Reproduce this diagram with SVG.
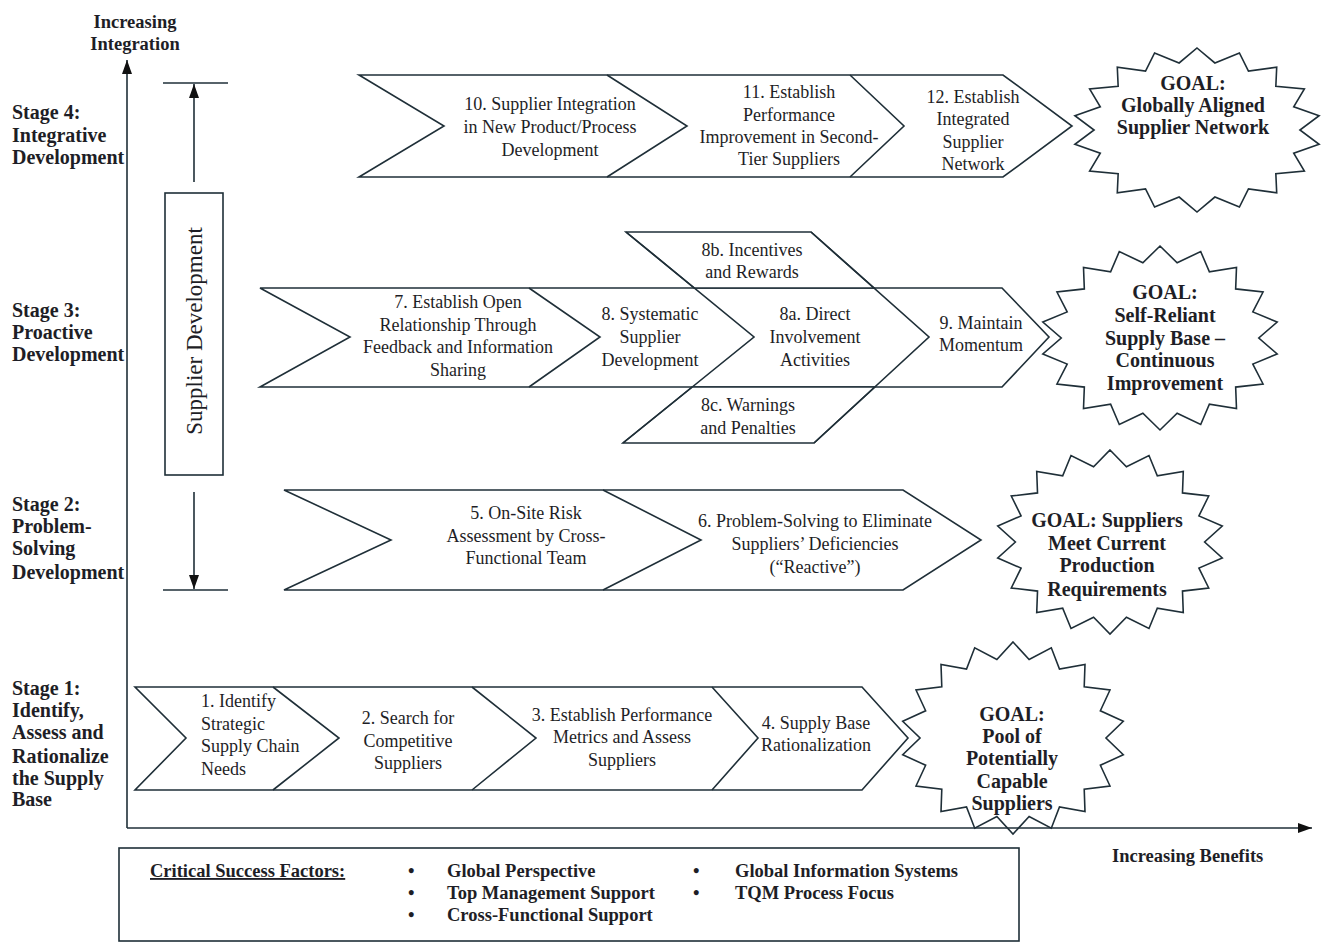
<svg xmlns="http://www.w3.org/2000/svg" xmlns:xlink="http://www.w3.org/1999/xlink" width="1323" height="944" viewBox="0 0 1323 944">
<style>
.ln{fill:none;stroke:#1f2f38;stroke-width:1.6}
.sh{fill:#fff;stroke:#1f2f38;stroke-width:1.6}
.t{font-family:"Liberation Serif","Times New Roman",serif;font-size:18px;fill:#1e1e26;text-anchor:middle}
.tl{font-family:"Liberation Serif","Times New Roman",serif;font-size:18px;fill:#1e1e26}
.b{font-family:"Liberation Serif","Times New Roman",serif;font-size:18.5px;font-weight:bold;fill:#1e1e26}
.s{font-family:"Liberation Serif","Times New Roman",serif;font-size:20px;font-weight:bold;fill:#1e1e26}
.g{font-family:"Liberation Serif","Times New Roman",serif;font-size:20px;font-weight:bold;fill:#1e1e26;text-anchor:middle}
.star{fill:#fff;stroke:#1f2f38;stroke-width:1.6;vector-effect:non-scaling-stroke}
</style>
<defs>
<marker id="ah" viewBox="0 0 14 10" refX="14" refY="5" markerWidth="14" markerHeight="10" orient="auto" markerUnits="userSpaceOnUse"><path d="M0,0 L14,5 L0,10 z" fill="#111"/></marker>
<polygon id="star" class="star" points="0,-1 0.1441,-0.8174 0.342,-0.9397 0.415,-0.7188 0.6428,-0.766 0.6358,-0.5335 0.866,-0.5 0.78,-0.2839 0.9848,-0.1736 0.83,0 0.9848,0.1736 0.78,0.2839 0.866,0.5 0.6358,0.5335 0.6428,0.766 0.415,0.7188 0.342,0.9397 0.1441,0.8174 0,1 -0.1441,0.8174 -0.342,0.9397 -0.415,0.7188 -0.6428,0.766 -0.6358,0.5335 -0.866,0.5 -0.78,0.2839 -0.9848,0.1736 -0.83,0 -0.9848,-0.1736 -0.78,-0.2839 -0.866,-0.5 -0.6358,-0.5335 -0.6428,-0.766 -0.415,-0.7188 -0.342,-0.9397 -0.1441,-0.8174"/>
</defs>
<rect width="1323" height="944" fill="#fff"/>

<g id="axis-labels">
<text class="b" x="135" y="28" text-anchor="middle">Increasing</text>
<text class="b" x="135" y="50" text-anchor="middle">Integration</text>
<text class="b" x="1112" y="862">Increasing Benefits</text>
</g>

<g id="stage-labels">
<text class="s" x="12" y="119">Stage 4:</text>
<text class="s" x="12" y="142">Integrative</text>
<text class="s" x="12" y="164">Development</text>
<text class="s" x="12" y="317">Stage 3:</text>
<text class="s" x="12" y="339">Proactive</text>
<text class="s" x="12" y="361">Development</text>
<text class="s" x="12" y="511">Stage 2:</text>
<text class="s" x="12" y="533">Problem-</text>
<text class="s" x="12" y="555">Solving</text>
<text class="s" x="12" y="579">Development</text>
<text class="s" x="12" y="695">Stage 1:</text>
<text class="s" x="12" y="717">Identify,</text>
<text class="s" x="12" y="739">Assess and</text>
<text class="s" x="12" y="763">Rationalize</text>
<text class="s" x="12" y="785">the Supply</text>
<text class="s" x="12" y="806">Base</text>
</g>

<g id="goal4">
<use xlink:href="#star" transform="translate(1197,130) scale(124,82)"/>
<text class="g" x="1193" y="90">GOAL:</text>
<text class="g" x="1193" y="112">Globally Aligned</text>
<text class="g" x="1193" y="134">Supplier Network</text>
</g>
<g id="goal3">
<use xlink:href="#star" transform="translate(1160,338) scale(119,92)"/>
<text class="g" x="1165" y="299">GOAL:</text>
<text class="g" x="1165" y="322">Self-Reliant</text>
<text class="g" x="1165" y="345">Supply Base –</text>
<text class="g" x="1165" y="367">Continuous</text>
<text class="g" x="1165" y="390">Improvement</text>
</g>
<g id="goal2">
<use xlink:href="#star" transform="translate(1110,542) scale(114,92)"/>
<text class="g" x="1107" y="527">GOAL: Suppliers</text>
<text class="g" x="1107" y="550">Meet Current</text>
<text class="g" x="1107" y="572">Production</text>
<text class="g" x="1107" y="596">Requirements</text>
</g>
<g id="goal1">
<use xlink:href="#star" transform="translate(1013,738) scale(112,96)"/>
<text class="g" x="1012" y="721">GOAL:</text>
<text class="g" x="1012" y="743">Pool of</text>
<text class="g" x="1012" y="765">Potentially</text>
<text class="g" x="1012" y="788">Capable</text>
<text class="g" x="1012" y="810">Suppliers</text>
</g>

<g id="stage4-band">
<polygon class="sh" points="359,75 1003,75 1072,126 1003,177 359,177 444,126"/>
<polyline class="ln" points="607,75 687,126 607,177"/>
<polyline class="ln" points="850,75 904,126 850,177"/>
</g>
<g id="step10">
<text class="t" x="550" y="110">10. Supplier Integration</text>
<text class="t" x="550" y="133">in New Product/Process</text>
<text class="t" x="550" y="156">Development</text>
</g>
<g id="step11">
<text class="t" x="789" y="98">11. Establish</text>
<text class="t" x="789" y="121">Performance</text>
<text class="t" x="789" y="143">Improvement in Second-</text>
<text class="t" x="789" y="165">Tier Suppliers</text>
</g>
<g id="step12">
<text class="t" x="973" y="103">12. Establish</text>
<text class="t" x="973" y="125">Integrated</text>
<text class="t" x="973" y="148">Supplier</text>
<text class="t" x="973" y="170">Network</text>
</g>

<g id="stage3-band">
<polygon class="sh" points="260,288 1002,288 1049,337 1002,387 260,387 350,337"/>
<polyline class="ln" points="529,288 600,337 529,387"/>
<polygon class="sh" points="626,232 811,232 874,288 694.3,288"/>
<polygon class="sh" points="692.2,387 874.8,387 814,443 623,443"/>
<polyline class="ln" points="626,232 754,337 623,443"/>
<polyline class="ln" points="811,232 929,337 814,443"/>
</g>
<g id="step7">
<text class="t" x="458" y="308">7. Establish Open</text>
<text class="t" x="458" y="331">Relationship Through</text>
<text class="t" x="458" y="353">Feedback and Information</text>
<text class="t" x="458" y="376">Sharing</text>
</g>
<g id="step8">
<text class="t" x="650" y="320">8. Systematic</text>
<text class="t" x="650" y="343">Supplier</text>
<text class="t" x="650" y="366">Development</text>
</g>
<g id="step8b">
<text class="t" x="752" y="256">8b. Incentives</text>
<text class="t" x="752" y="278">and Rewards</text>
</g>
<g id="step8a">
<text class="t" x="815" y="320">8a. Direct</text>
<text class="t" x="815" y="343">Involvement</text>
<text class="t" x="815" y="366">Activities</text>
</g>
<g id="step8c">
<text class="t" x="748" y="411">8c. Warnings</text>
<text class="t" x="748" y="434">and Penalties</text>
</g>
<g id="step9">
<text class="t" x="981" y="329">9. Maintain</text>
<text class="t" x="981" y="351">Momentum</text>
</g>

<g id="stage2-band">
<polygon class="sh" points="284,490 903,490 981,540 903,590 284,590 391,540"/>
<polyline class="ln" points="603,490 701,540 603,590"/>
</g>
<g id="step5">
<text class="t" x="526" y="519">5. On-Site Risk</text>
<text class="t" x="526" y="542">Assessment by Cross-</text>
<text class="t" x="526" y="564">Functional Team</text>
</g>
<g id="step6">
<text class="t" x="815" y="527">6. Problem-Solving to Eliminate</text>
<text class="t" x="815" y="550">Suppliers’ Deficiencies</text>
<text class="t" x="815" y="573">(“Reactive”)</text>
</g>

<g id="stage1-band">
<polygon class="sh" points="135,687 862,687 908,738 862,790 135,790 186,738"/>
<polyline class="ln" points="273,687 339,738 273,790"/>
<polyline class="ln" points="472,687 536,738 472,790"/>
<polyline class="ln" points="712,687 758,738 712,790"/>
</g>
<g id="step1">
<text class="tl" x="201" y="707">1. Identify</text>
<text class="tl" x="201" y="730">Strategic</text>
<text class="tl" x="201" y="752">Supply Chain</text>
<text class="tl" x="201" y="775">Needs</text>
</g>
<g id="step2">
<text class="t" x="408" y="724">2. Search for</text>
<text class="t" x="408" y="747">Competitive</text>
<text class="t" x="408" y="769">Suppliers</text>
</g>
<g id="step3">
<text class="t" x="622" y="721">3. Establish Performance</text>
<text class="t" x="622" y="743">Metrics and Assess</text>
<text class="t" x="622" y="766">Suppliers</text>
</g>
<g id="step4">
<text class="t" x="816" y="729">4. Supply Base</text>
<text class="t" x="816" y="751">Rationalization</text>
</g>

<g id="supplier-development">
<rect class="sh" x="165" y="193" width="58" height="282"/>
<text class="t" transform="translate(202,331) rotate(-90)" style="font-size:23px">Supplier Development</text>
</g>

<g id="connectors">
<line class="ln" x1="127" y1="828" x2="127" y2="60" marker-end="url(#ah)"/>
<line class="ln" x1="127" y1="828" x2="1312" y2="828" marker-end="url(#ah)"/>
<line class="ln" x1="163" y1="83" x2="228" y2="83"/>
<line class="ln" x1="194" y1="182" x2="194" y2="84" marker-end="url(#ah)"/>
<line class="ln" x1="194" y1="492" x2="194" y2="589" marker-end="url(#ah)"/>
<line class="ln" x1="163" y1="590" x2="228" y2="590"/>
</g>

<g id="critical-success-factors">
<rect class="ln" x="119" y="848" width="900" height="93"/>
<text class="b" x="150" y="877" text-decoration="underline">Critical Success Factors:</text>
<text class="b" x="408" y="877">•</text>
<text class="b" x="408" y="899">•</text>
<text class="b" x="408" y="921">•</text>
<text class="b" x="447" y="877">Global Perspective</text>
<text class="b" x="447" y="899">Top Management Support</text>
<text class="b" x="447" y="921">Cross-Functional Support</text>
<text class="b" x="693" y="877">•</text>
<text class="b" x="693" y="899">•</text>
<text class="b" x="735" y="877">Global Information Systems</text>
<text class="b" x="735" y="899">TQM Process Focus</text>
</g>
</svg>
